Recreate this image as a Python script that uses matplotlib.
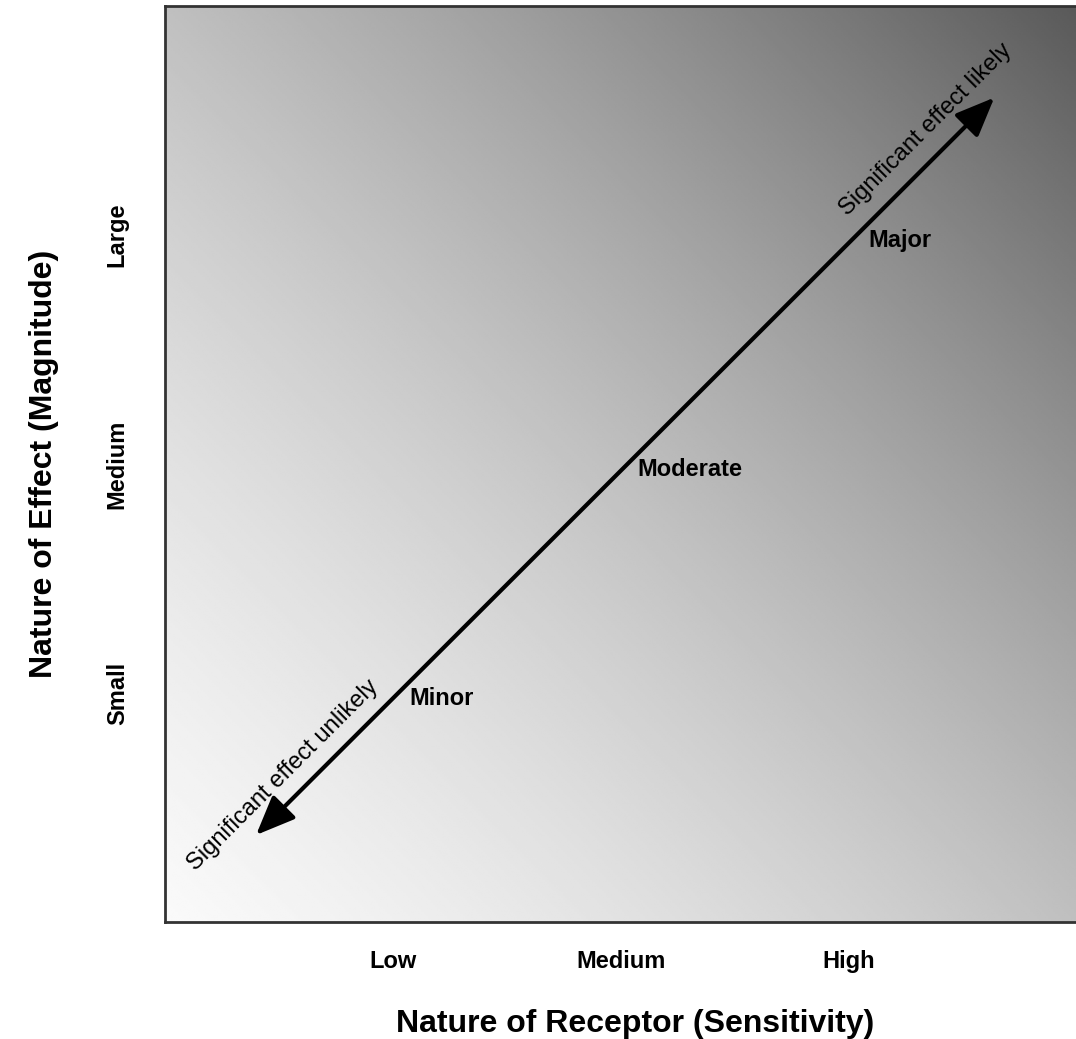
import numpy as np
import matplotlib
matplotlib.use('Agg')
import matplotlib.pyplot as plt

plt.rcParams['font.family'] = ['Liberation Sans', 'DejaVu Sans']

# Categorias dos eixos e niveis de significancia.
receptor_labels = ['Low', 'Medium', 'High']
effect_labels = ['Small', 'Medium', 'Large']
levels = [1, 2, 3]
significance = ['Minor', 'Moderate', 'Major']
arrow_start = (0.4, 0.38)
arrow_end = (3.64, 3.6)

fig = plt.figure(figsize=(10.76, 10.39), dpi=100)
ax = fig.add_axes([0.1533, 0.1126, 0.847, 0.8816])

# Fundo em degrade: claro no canto inferior esquerdo, escuro no superior direito.
u = np.linspace(0, 1, 400)
U, V = np.meshgrid(u, u)
s = U + V
grad = 0.98 - 0.145 * s - 0.085 * s ** 2
ax.imshow(grad, cmap='gray', vmin=0, vmax=1, origin='lower',
          extent=[0, 4, 0, 4], aspect='auto', interpolation='bilinear')

ax.set_xlim(0, 4)
ax.set_ylim(0, 4)

# Seta dupla diagonal.
ax.annotate('', xy=arrow_end, xytext=arrow_start,
            arrowprops=dict(arrowstyle='<|-|>,head_length=2.4,head_width=1.0',
                            color='black', lw=3, shrinkA=0, shrinkB=0))

for lv, name in zip(levels, significance):
    ax.annotate(name, xy=(lv, lv), xytext=(12 + 2 * (lv == 3), -4),
                textcoords='offset points',
                fontsize=17, fontweight='bold', ha='left', va='center')

ax.text(0.52, 0.64, 'Significant effect unlikely', rotation=45, fontsize=17,
        ha='center', va='center', rotation_mode='anchor')
ax.text(3.34, 3.46, 'Significant effect likely', rotation=45, fontsize=17,
        ha='center', va='center', rotation_mode='anchor')

ax.set_xticks(levels)
ax.set_xticklabels(receptor_labels, fontsize=17, fontweight='bold')
ax.set_yticks(levels)
ax.set_yticklabels(effect_labels, fontsize=17, fontweight='bold',
                   rotation=90, va='center')
ax.tick_params(axis='both', length=0)
ax.tick_params(axis='x', pad=20)
ax.tick_params(axis='y', pad=26)

ax.set_xlabel('Nature of Receptor (Sensitivity)', fontsize=23,
              fontweight='bold', labelpad=26)
ax.xaxis.label.set_x(0.516)
ax.set_ylabel('Nature of Effect (Magnitude)', fontsize=23,
              fontweight='bold', labelpad=34)

for side in ['left', 'top', 'bottom']:
    ax.spines[side].set_linewidth(2)
    ax.spines[side].set_color('#333333')
ax.spines['right'].set_visible(False)

plt.savefig('out.png', dpi=100)
